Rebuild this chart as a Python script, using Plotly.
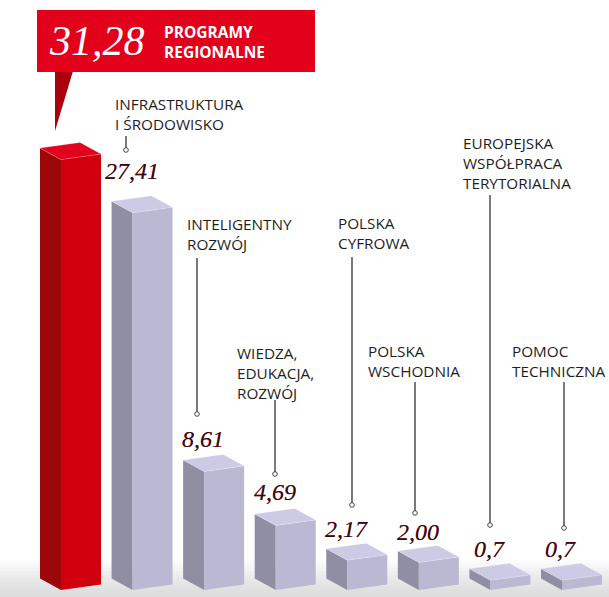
import plotly.graph_objects as go

# ---------------- data ----------------
categories = [
    "PROGRAMY<br>REGIONALNE",
    "INFRASTRUKTURA<br>I ŚRODOWISKO",
    "INTELIGENTNY<br>ROZWÓJ",
    "WIEDZA,<br>EDUKACJA,<br>ROZWÓJ",
    "POLSKA<br>CYFROWA",
    "POLSKA<br>WSCHODNIA",
    "EUROPEJSKA<br>WSPÓŁPRACA<br>TERYTORIALNA",
    "POMOC<br>TECHNICZNA",
]
values = [31.28, 27.41, 8.61, 4.69, 2.17, 2.00, 0.7, 0.7]
value_labels = ["31,28", "27,41", "8,61", "4,69", "2,17", "2,00", "0,7", "0,7"]

# ---------------- geometry / style ----------------
W, H = 609, 597
PX_PER_UNIT = 13.76          # pixels per value unit
BASE_PX = 590                # pixel row of the value 0 (front edge)
SPACING_PX = 71.57           # pixels between bars
FIRST_LEFT_PX = 40

def dx(px):   # pixel width -> x units
    return px / SPACING_PX

def dy(px):   # pixel height -> y units
    return px / PX_PER_UNIT

x_range = [-FIRST_LEFT_PX / SPACING_PX, (W - FIRST_LEFT_PX) / SPACING_PX]
y_range = [-(H - BASE_PX) / PX_PER_UNIT, BASE_PX / PX_PER_UNIT]

SIDE_W, FRONT_W = 21, 40
UP_L, UP_R = 11.5, 5.5

colors_red = dict(side="#9c0709", front="#d1000f", top="#e3021b")
colors_gray = dict(side="#8f8ea3", front="#bab8d3", top="#cdcae6")

def px2paper_x(px):
    return px / W

def px2paper_y(py):
    return 1 - py / H

fig = go.Figure()

# floor shadow bands
for k in range(10):
    y0 = 560 + k * 3.7
    fig.add_shape(type="rect", xref="paper", yref="paper",
                  x0=0, x1=1, y0=px2paper_y(597), y1=px2paper_y(y0),
                  line_width=0, fillcolor="rgba(190,190,195,0.06)", layer="below")

# bars (3D boxes built from values through data axes)
for i, v in enumerate(values):
    c = colors_red if i == 0 else colors_gray
    xl = i
    xf = i + dx(SIDE_W)
    xr = xf + dx(FRONT_W)
    yl = dy(UP_L)
    yr = dy(UP_R)
    # side face
    fig.add_trace(go.Scatter(
        x=[xl, xl, xf, xf, xl], y=[yl, v + yl, v, 0, yl],
        fill="toself", fillcolor=c["side"], mode="lines",
        line=dict(width=0), hoverinfo="skip", showlegend=False))
    # front face
    fig.add_trace(go.Scatter(
        x=[xf, xf, xr, xr, xf], y=[0, v, v + yr, yr, 0],
        fill="toself", fillcolor=c["front"], mode="lines",
        line=dict(width=0), hoverinfo="skip", showlegend=False))
    # top face
    xb = xf + (xl - xf) + (xr - xf)
    fig.add_trace(go.Scatter(
        x=[xf, xl, xb, xr, xf], y=[v, v + yl, v + yl + yr, v + yr, v],
        fill="toself", fillcolor=c["top"], mode="lines",
        line=dict(width=0.6, color="rgba(255,255,255,0.35)"),
        hoverinfo="skip", showlegend=False))

# callout for the first bar
fig.add_shape(type="path", xref="paper", yref="paper",
              path=("M {:.4f} {:.4f} L {:.4f} {:.4f} L {:.4f} {:.4f} Z".format(
                  px2paper_x(55), px2paper_y(71), px2paper_x(73), px2paper_y(71),
                  px2paper_x(55), px2paper_y(131))),
              fillcolor="#a9000c", line_width=0)
fig.add_shape(type="rect", xref="paper", yref="paper",
              x0=px2paper_x(37), x1=px2paper_x(315),
              y0=px2paper_y(72), y1=px2paper_y(10),
              fillcolor="#e2001a", line_width=0)
fig.add_annotation(xref="paper", yref="paper", x=px2paper_x(47), y=px2paper_y(41),
                   xanchor="left", yanchor="middle", showarrow=False,
                   text=value_labels[0],
                   font=dict(family="Liberation Serif", size=42, color="white", style="italic"))
fig.add_annotation(xref="paper", yref="paper", x=px2paper_x(162), y=px2paper_y(42),
                   xanchor="left", yanchor="middle", showarrow=False, align="left",
                   text="<b>" + categories[0] + "</b>",
                   font=dict(family="Open Sans", size=15.5, color="white"))

# category labels and leaders for other bars
label_pos = [None, (115, 103), (187, 223), (237, 352), (338, 222), (368, 350), (463, 142), (512, 350)]
leaders = [None, (126, 136, 150), (197, 258, 414), (275, 400, 474), (352, 257, 505),
           (415, 382, 513), (490, 195, 525), (564, 382, 528)]
value_shift = [0, 42, 33, 33, 31, 30, 31, 31]

for i in range(1, len(values)):
    lx, ly = label_pos[i]
    fig.add_annotation(xref="paper", yref="paper", x=px2paper_x(lx - 2), y=px2paper_y(ly - 11),
                       xanchor="left", yanchor="top", showarrow=False, align="left",
                       text=categories[i],
                       font=dict(family="Open Sans", size=15.3, color="#1e1e1e"))
    x0, yt, yb = leaders[i]
    fig.add_shape(type="line", xref="paper", yref="paper",
                  x0=px2paper_x(x0), x1=px2paper_x(x0),
                  y0=px2paper_y(yt), y1=px2paper_y(yb - 2),
                  line=dict(color="#333333", width=1.3))
    fig.add_shape(type="circle", xref="paper", yref="paper",
                  x0=px2paper_x(x0 - 2.3), x1=px2paper_x(x0 + 2.3),
                  y0=px2paper_y(yb - 2.3), y1=px2paper_y(yb + 2.3),
                  line=dict(color="#444444", width=1), fillcolor="white")
    xf = i + dx(SIDE_W)
    fig.add_annotation(xref="x", yref="y", x=xf, y=values[i],
                       yshift=value_shift[i], xshift=-1,
                       xanchor="center", yanchor="middle", showarrow=False,
                       text=value_labels[i],
                       font=dict(family="Liberation Serif", size=24, color="#3a0810",
                                 style="italic", shadow="0px 0px 0.6px #c06070"))

fig.update_layout(
    width=W, height=H,
    margin=dict(l=0, r=0, t=0, b=0),
    paper_bgcolor="white", plot_bgcolor="white",
    xaxis=dict(range=x_range, visible=False, fixedrange=True),
    yaxis=dict(range=y_range, visible=False, fixedrange=True),
    showlegend=False,
)

fig.write_html("out.html", config={"displayModeBar": False})
with open("out.html", "r", encoding="utf-8") as f:
    html = f.read()
html = html.replace("<body>", '<body style="margin:0;padding:0;">', 1)
with open("out.html", "w", encoding="utf-8") as f:
    f.write(html)
